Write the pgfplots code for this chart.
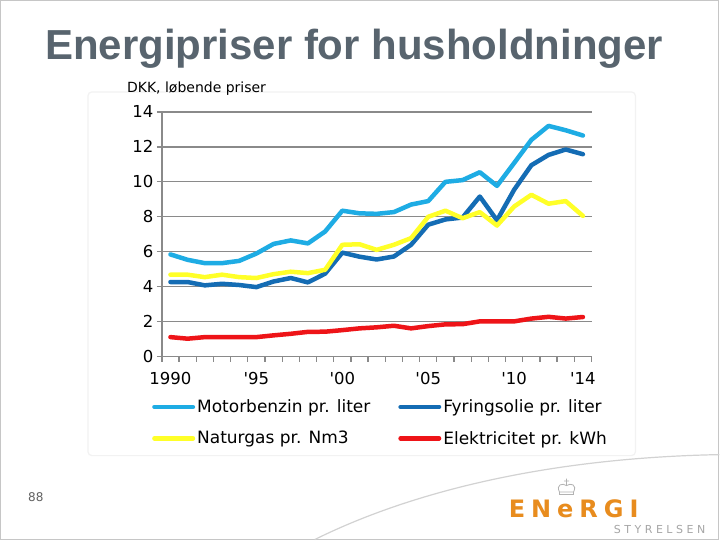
\documentclass[border=0pt]{standalone}
\usepackage{pgfplots}
\pgfplotsset{compat=1.18}
\usepackage{fontspec}
\setmainfont{DejaVu Sans}
\newfontfamily\titlefont{Liberation Sans}
\definecolor{lblue}{RGB}{30,172,228}
\definecolor{dblue}{RGB}{20,108,180}
\definecolor{gyellow}{RGB}{255,255,40}
\definecolor{ered}{RGB}{238,20,24}
\definecolor{axisgray}{RGB}{138,138,138}
\definecolor{titlegray}{RGB}{88,100,110}
\definecolor{logoorange}{RGB}{232,140,30}

\pgfplotstableread{
Year Motor Fyring Natur El
1990 5.85 4.27 4.69 1.12
1991 5.54 4.27 4.69 1.03
1992 5.35 4.08 4.55 1.12
1993 5.35 4.17 4.69 1.12
1994 5.48 4.10 4.55 1.12
1995 5.90 3.98 4.50 1.12
1996 6.45 4.30 4.72 1.22
1997 6.65 4.50 4.86 1.31
1998 6.48 4.25 4.78 1.42
1999 7.16 4.75 4.97 1.43
2000 8.35 5.95 6.40 1.52
2001 8.20 5.72 6.43 1.62
2002 8.17 5.56 6.11 1.68
2003 8.27 5.73 6.40 1.77
2004 8.70 6.40 6.78 1.62
2005 8.90 7.55 8.00 1.75
2006 10.00 7.85 8.35 1.85
2007 10.10 7.96 7.92 1.86
2008 10.55 9.16 8.27 2.02
2009 9.77 7.80 7.50 2.02
2010 11.08 9.55 8.59 2.02
2011 12.40 10.95 9.26 2.18
2012 13.20 11.54 8.75 2.28
2013 12.95 11.85 8.90 2.18
2014 12.65 11.58 8.05 2.27
}\prices

\begin{document}
\begin{tikzpicture}[x=1pt,y=1pt]
\fill[white] (0,0) rectangle (720,540);
\draw[gray!45, line width=1pt] (0.5,0.5) rectangle (719.5,539.5);
\draw[gray!10, line width=1.2pt, rounded corners=4pt] (88,448) rectangle (636,84);
\draw[gray!35, line width=1.2pt] (315,0) .. controls (420,52) and (560,82) .. (720,85);

\begin{axis}[
  at={(162pt,183pt)}, anchor=south west,
  scale only axis, width=430pt, height=245pt,
  xmin=1989.5, xmax=2014.5, ymin=0, ymax=14,
  ytick={0,2,...,14},
  xtick={1989.5,1990.5,...,2014.5},
  xticklabels={},
  extra x ticks={1990,1995,2000,2005,2010,2014},
  extra x tick labels={1990,\textquotesingle95,\textquotesingle00,\textquotesingle05,\textquotesingle10,\textquotesingle14},
  extra x tick style={major tick length=0pt, grid=none},
  axis x line*=bottom, axis y line*=left,
  axis line style={draw=axisgray, line width=1.3pt, -},
  tick style={draw=axisgray, line width=1.3pt},
  major tick length=5pt, tick align=outside,
  ymajorgrids, grid style={draw=axisgray, line width=1.3pt},
  tick label style={font=\fontsize{16.5}{18}\selectfont},
  /pgf/number format/assume math mode=true,
  xticklabel style={yshift=-12pt},
  legend columns=2,
  legend cell align=left,
  legend style={at={(-0.023,-0.175)}, anchor=north west, draw=none, fill=none,
    inner sep=0pt, font=\fontsize{17}{20}\selectfont, nodes={inner sep=0pt},
    row sep=17pt,
    /tikz/every odd column/.append style={column sep=2pt},
    /tikz/every even column/.append style={column sep=28pt}},
  legend image code/.code={\draw[#1, line width=4.5pt, line cap=round] (2.25pt,0pt) -- (40.75pt,0pt);},
  every axis plot/.append style={line width=4.5pt, line cap=round, line join=round, mark=none},
]
\addplot[lblue] table[x=Year, y=Motor] {\prices};
\addlegendentry{Motorbenzin pr. liter}
\addplot[dblue] table[x=Year, y=Fyring] {\prices};
\addlegendentry{Fyringsolie pr. liter}
\addplot[gyellow] table[x=Year, y=Natur] {\prices};
\addlegendentry{Naturgas pr. Nm3}
\addplot[ered] table[x=Year, y=El] {\prices};
\addlegendentry{Elektricitet pr. kWh}
\end{axis}

\node[anchor=base west, inner sep=0, text=titlegray, font=\titlefont\bfseries\fontsize{42}{48}\selectfont] at (45,480) {Energipriser for husholdninger};
\node[anchor=base west, inner sep=0, font=\fontsize{14}{16}\selectfont] at (127,447) {DKK, løbende priser};
\node[anchor=base west, inner sep=0, text=gray!75!black, font=\fontsize{12}{14}\selectfont] at (28,38) {88};
\node[anchor=base west, inner sep=0, text=logoorange, font=\bfseries\fontsize{24}{28}\selectfont] at (509,22) {E\hskip6pt N\hskip6pt e\hskip6pt R\hskip6pt G\hskip6pt I};
\node[anchor=base east, inner sep=0, text=gray!70, font=\fontsize{11}{13}\selectfont] at (706,6) {S\hskip3.5pt T\hskip3.5pt Y\hskip3.5pt R\hskip3.5pt E\hskip3.5pt L\hskip3.5pt S\hskip3.5pt E\hskip3.5pt N};
\draw[gray!60, line width=0.8pt] (560,45) rectangle (574,47.5)
  (560,47.5) .. controls (556,55) and (563,57) .. (567,54) .. controls (571,57) and (578,55) .. (574,47.5)
  (567,54) -- (567,61) (564.5,58.5) -- (569.5,58.5);
\end{tikzpicture}
\end{document}
